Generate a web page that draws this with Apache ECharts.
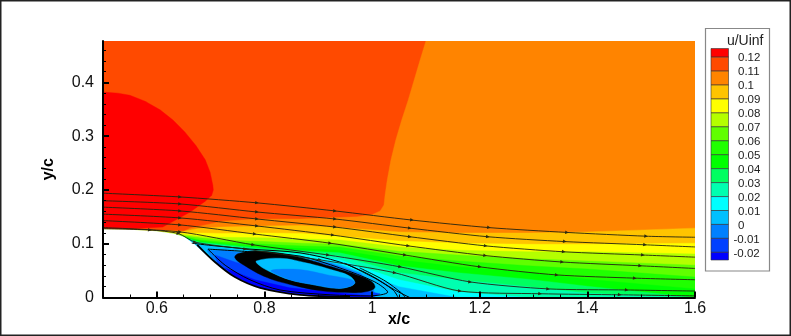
<!DOCTYPE html>
<html><head><meta charset="utf-8">
<style>html,body{margin:0;padding:0;background:#fff}#c{width:791px;height:336px}</style>
<script src="https://cdn.jsdelivr.net/npm/echarts@6/dist/echarts.min.js"></script>
</head><body><div id="c"></div>
<script>
// ---- tick values
const xMajorTicks=[0.6,0.8,1,1.2,1.4,1.6];
const xMinorTicks=[0.55,0.65,0.7,0.75,0.85,0.9,0.95,1.05,1.1,1.15,1.25,1.3,1.35,1.45,1.5,1.55];
const yMajorTicks=[0,0.1,0.2,0.3,0.4];
const yMinorTicks=[0.02,0.04,0.06,0.08,0.12,0.14,0.16,0.18,0.22,0.24,0.26,0.28,0.32,0.34,0.36,0.38,0.42,0.44,0.46];
// ---- legend
const legendLabels=['0.12','0.11','0.1','0.09','0.08','0.07','0.06','0.05','0.04','0.03','0.02','0.01','0','-0.01','-0.02'];
const legendLevels=[0.12,0.11,0.10,0.09,0.08,0.07,0.06,0.05,0.04,0.03,0.02,0.01,0,-0.01,-0.02];
const legendTop=0.1262, legendBottom=-0.0255;
const cRed='#ff0000',c11='#ff4a00',c10='#ff8400',c09='#ffc400',c08='#ffff00',c07='#b4ff00',c06='#60ff00',c05='#20ff00',c04='#00ff00',c03='#00ff60',c02='#00ffb0',c01='#00ffff',c00='#00c0ff',cm1='#0080ff',cm2='#0040ff',cm3='#0000ff';
const legendColors=[cRed,c11,c10,c09,c08,c07,c06,c05,c04,c03,c02,c01,c00,cm1,cm2,cm3];
// ---- contour level boundaries, sampled at the same x stations
const stationX=[0.5,0.6,0.65,0.68,0.72,0.8,0.87,0.94,1.05,1.16,1.29,1.4,1.6];
const level100=[.127,.125,.123,.129,.131,.133,.134,.130,.122,.120,.120,.122,.129];
const level090=[.127,.124,.119,.120,.119,.120,.119,.114,.105,.101,.099,.099,.101];
const level080=[.126,.123,.117,.114,.112,.111,.109,.107,.094,.088,.085,.085,.081];
const level070=[.126,.122,.115,.111,.107,.104,.101,.099,.086,.079,.072,.068,.060];
const level060=[.125,.121,.113,.107,.103,.099,.096,.094,.077,.068,.059,.053,.038];
const level050=[.125,.121,.112,.105,.100,.094,.091,.088,.070,.057,.047,.034,.016];
const level040=[.125,.120,.112,.103,.099,.091,.087,.083,.059,.046,.034,.021,0];
const level030=[.125,.120,.111,.101,.097,.088,.084,.077,.046,.033,.020,.008,0];
const level020=[.125,.119,.110,.100,.095,.086,.080,.070,.033,.010,0,0,0];
const level010=[.125,.119,.110,.099,.093,.085,.075,.062,.020,0,0,0,0];
// ---- closed regions [x,y]
const regionBase=[[.5,0],[1.6,0],[1.6,.477],[.5,.477]];
const regionRed=[[.5,.382],[.528,.380],[.55,.376],[.578,.365],[.606,.349],[.630,.330],[.652,.308],[.673,.282],[.690,.256],[.699,.233],[.704,.209],[.705,.200],[.702,.190],[.690,.179],[.662,.159],[.611,.131],[.55,.128],[.5,.128]];
const region110=[[1.100,.477],[1.089,.441],[1.078,.404],[1.067,.367],[1.055,.330],[1.044,.293],[1.035,.256],[1.028,.218],[1.024,.190],[1.022,.172],[1.015,.161],[1.0,.154],[.972,.150],[.866,.146],[.786,.146],[.723,.142],[.662,.129],[.643,.120],[.6,.122],[.5,.127],[.5,0],[1.6,0],[1.6,.477]];
const bubble0=[[.693,.088],[.727,.088],[.773,.081],[.847,.075],[.922,.064],[.978,.045],[1.0,.024],[1.005,.006],[1.0,0],[.866,.001],[.773,.014],[.717,.051]];
const bubbleM1=[[.708,.079],[.745,.066],[.810,.047],[.885,.033],[.959,.018],[1.015,.007],[1.0,0],[.866,.001],[.773,.014],[.717,.051]];
const bubbleM2=[[.727,.055],[.782,.033],[.847,.018],[.922,.010],[.996,.003],[1.0,0],[.866,.001],[.773,.014]];
const ringOuter=[[.745,.074],[.752,.082],[.797,.086],[.860,.076],[.922,.058],[.977,.040],[1.0,.029],[1.005,.018],[.99,.011],[.964,.009],[.909,.012],[.853,.023],[.805,.037],[.762,.060]];
const ringInner=[[.785,.068],[.829,.073],[.879,.064],[.927,.051],[.958,.040],[.968,.028],[.960,.021],[.935,.017],[.890,.024],[.847,.033],[.812,.047],[.79,.060]];
const coreLower=[[.812,.050],[.866,.052],[.922,.041],[.960,.034],[.968,.028],[.960,.021],[.935,.017],[.890,.024],[.847,.033]];
const wallBody=[[.5,.127],[.55,.126],[.6,.123],[.634,.118],[.652,.112],[.671,.098],[.69,.081],[.717,.057],[.745,.038],[.773,.024],[.801,.015],[.847,.007],[.903,.002],[.959,0],[.5,0]];
// ---- streamlines
const stream1=[[.5,.194],[.643,.187],[.786,.176],[.931,.161],[1.074,.144],[1.217,.130],[1.362,.121],[1.509,.114],[1.6,.112]];
const stream2=[[.5,.180],[.643,.174],[.786,.159],[.931,.146],[1.070,.129],[1.215,.113],[1.358,.104],[1.507,.098],[1.6,.094]];
const stream3=[[.5,.168],[.643,.161],[.786,.146],[.931,.131],[1.070,.113],[1.211,.096],[1.356,.085],[1.503,.079],[1.6,.075]];
const stream4=[[.5,.155],[.643,.148],[.786,.133],[.927,.116],[1.067,.096],[1.210,.078],[1.353,.066],[1.498,.059],[1.6,.054]];
const stream5=[[.5,.143],[.643,.135],[.782,.118],[.922,.101],[1.061,.079],[1.200,.057],[1.343,.042],[1.488,.036],[1.6,.033]];
const stream6=[[.5,.130],[.643,.122],[.779,.098],[.918,.079],[1.052,.057],[1.182,.029],[1.327,.016],[1.473,.014],[1.6,.012]];
const stream7=[[.5,.128],[.587,.1255],[.64,.119],[.671,.103],[.764,.09],[.903,.070],[1.042,.046],[1.163,.012],[1.312,.007],[1.460,.005],[1.6,.003]];
const sepA=[[.665,.101],[.708,.096],[.773,.090],[.866,.083],[.940,.066],[.996,.042],[1.042,.014],[1.070,0]];
const sepB=[[.695,.090],[.773,.085],[.866,.077],[.940,.055],[1.005,.029],[1.029,.010],[.996,.003],[.922,.005],[.829,.014],[.773,.033],[.727,.060],[.695,.090]];
const sepC=[[.675,.098],[.708,.066],[.745,.038],[.792,.018],[.866,.005],[.959,.001]];
const sepD=[[.949,.064],[1.005,.036],[1.039,.014],[1.048,.001]];
const sepE=[[.977,.055],[1.024,.031],[1.055,.008],[1.061,.001]];

const bandLayers=[[level100,c09],[level090,c08],[level080,c07],[level070,c06],[level060,c05],[level050,c04],[level040,c03],[level030,c02],[level020,c01],[level010,c00]];
function bandPoly(level){
  const p=stationX.map((x,i)=>[x,level[i]]);
  p.push([1.6,0],[.5,0]);
  return p;
}
const layers=[
  {p:regionBase,c:c11},{p:regionRed,c:cRed},{p:region110,c:c10},
  ...bandLayers.map(b=>({p:bandPoly(b[0]),c:b[1]})),
  {p:bubble0,c:cm1},{p:bubbleM1,c:cm2},{p:bubbleM2,c:cm3},
  {p:ringOuter,c:'#000',s:.4},{p:ringInner,c:c00,s:.4},{p:coreLower,c:cm1,s:.3},
  {p:wallBody,c:'#fff'}
];
const font='"Liberation Sans",Arial,sans-serif';
const streams=[stream1,stream2,stream3,stream4,stream5,stream6,stream7].map(d=>({
  type:'line',data:d,xAxisIndex:0,yAxisIndex:0,smooth:.25,z:4,silent:true,
  showAllSymbol:true,symbolSize:3.5,symbolRotate:-98,
  symbol:(v,p)=>(p.dataIndex===0||p.dataIndex===d.length-1)?'none':'triangle',
  lineStyle:{color:'#24240f',width:1,opacity:.9},itemStyle:{color:'#2a2a10'},
  label:{show:false},animation:false
}));
const seps=[[sepA,1],[sepB,1],[sepC,1.8],[sepD,1],[sepE,1]].map(a=>({
  type:'line',data:a[0],xAxisIndex:0,yAxisIndex:0,smooth:.3,z:4,silent:true,symbol:'none',
  lineStyle:{color:'#000',width:a[1]},animation:false
}));
const chart=echarts.init(document.getElementById('c'),null,{renderer:'canvas'});
chart.setOption({
  animation:false,backgroundColor:'#fff',
  textStyle:{fontFamily:font},
  grid:[{left:103,top:41,width:592,height:256.5,outerBoundsMode:'none'},{left:711,top:48.5,width:17.5,height:211.5,outerBoundsMode:'none'}],
  xAxis:[
    {type:'value',gridIndex:0,min:.5,max:1.6,position:'bottom',z:6,name:'x/c',nameLocation:'middle',nameGap:14,nameMoveOverlap:false,
     nameTextStyle:{fontSize:16,fontWeight:'bold',color:'#000',fontFamily:font},
     axisLine:{onZero:false,lineStyle:{color:'#000',width:2}},splitLine:{show:false},
     axisTick:{inside:true,length:6,customValues:xMajorTicks,lineStyle:{color:'#000',width:2}},
     axisLabel:{customValues:xMajorTicks,margin:3,fontSize:16,color:'#111',fontFamily:font,hideOverlap:false}},
    {type:'value',gridIndex:0,min:.5,max:1.6,position:'bottom',z:6,
     axisLine:{show:false},splitLine:{show:false},axisLabel:{show:false},
     axisTick:{inside:true,length:3,customValues:xMinorTicks,lineStyle:{color:'#000',width:1}}},
    {type:'value',gridIndex:1,min:0,max:1,show:false}
  ],
  yAxis:[
    {type:'value',gridIndex:0,min:0,max:.477,position:'left',z:6,name:'y/c',nameLocation:'middle',nameGap:46,
     nameTextStyle:{fontSize:16,fontWeight:'bold',color:'#000',fontFamily:font},
     axisLine:{onZero:false,lineStyle:{color:'#000',width:2}},splitLine:{show:false},
     axisTick:{inside:true,length:6,customValues:yMajorTicks,lineStyle:{color:'#000',width:2}},
     axisLabel:{customValues:yMajorTicks,margin:9,fontSize:16,color:'#111',fontFamily:font}},
    {type:'value',gridIndex:0,min:0,max:.477,position:'left',z:6,
     axisLine:{show:false},splitLine:{show:false},axisLabel:{show:false},
     axisTick:{inside:true,length:3,customValues:yMinorTicks,lineStyle:{color:'#000',width:1}}},
    {type:'value',gridIndex:1,min:legendBottom,max:legendTop,show:false}
  ],
  graphic:[
    {type:'rect',z:-1,silent:true,shape:{x:.75,y:.75,width:789.5,height:334.5},style:{fill:'#fff',stroke:'#222',lineWidth:1.5}},
    {type:'rect',z:0,silent:true,shape:{x:705.5,y:28.5,width:64,height:242.5},style:{fill:'#fff',stroke:'#888',lineWidth:1.2}},
    {type:'text',z:1,silent:true,style:{x:763.5,y:41,text:'u/Uinf',align:'right',verticalAlign:'middle',fill:'#222',font:'14px '+font}}
  ],
  series:[
    {type:'custom',xAxisIndex:0,yAxisIndex:0,z:2,silent:true,clip:true,data:layers.map((l,i)=>[i]),
     encode:{x:-1,y:-1},
     renderItem:(params,api)=>{
       const l=layers[params.dataIndex];
       return {type:'polygon',shape:{points:l.p.map(q=>api.coord(q)),smooth:l.s||0},style:{fill:l.c,stroke:l.c,lineWidth:.4}};
     }},
    ...seps,...streams,
    {type:'custom',xAxisIndex:2,yAxisIndex:2,z:2,silent:true,data:legendColors.map((c,i)=>[i]),
     encode:{x:-1,y:-1},
     renderItem:(params,api)=>{
       const i=params.dataIndex;
       const hi=i===0?legendTop:legendLevels[i-1];
       const lo=i===legendLevels.length?legendBottom:legendLevels[i];
       const a=api.coord([0,hi]),b=api.coord([1,lo]);
       const kids=[{type:'rect',shape:{x:a[0],y:a[1],width:b[0]-a[0],height:b[1]-a[1]},style:{fill:legendColors[i],stroke:'#333',lineWidth:.6}}];
       if(i<legendLabels.length){
         const neg=legendLabels[i][0]==='-';
         kids.push({type:'text',style:{x:b[0]+(neg?5:9.5),y:b[1]+1,text:legendLabels[i],align:'left',verticalAlign:'middle',fill:'#222',font:'11.5px '+font}});
       }
       return {type:'group',children:kids};
     }}
  ]
});
</script></body></html>
